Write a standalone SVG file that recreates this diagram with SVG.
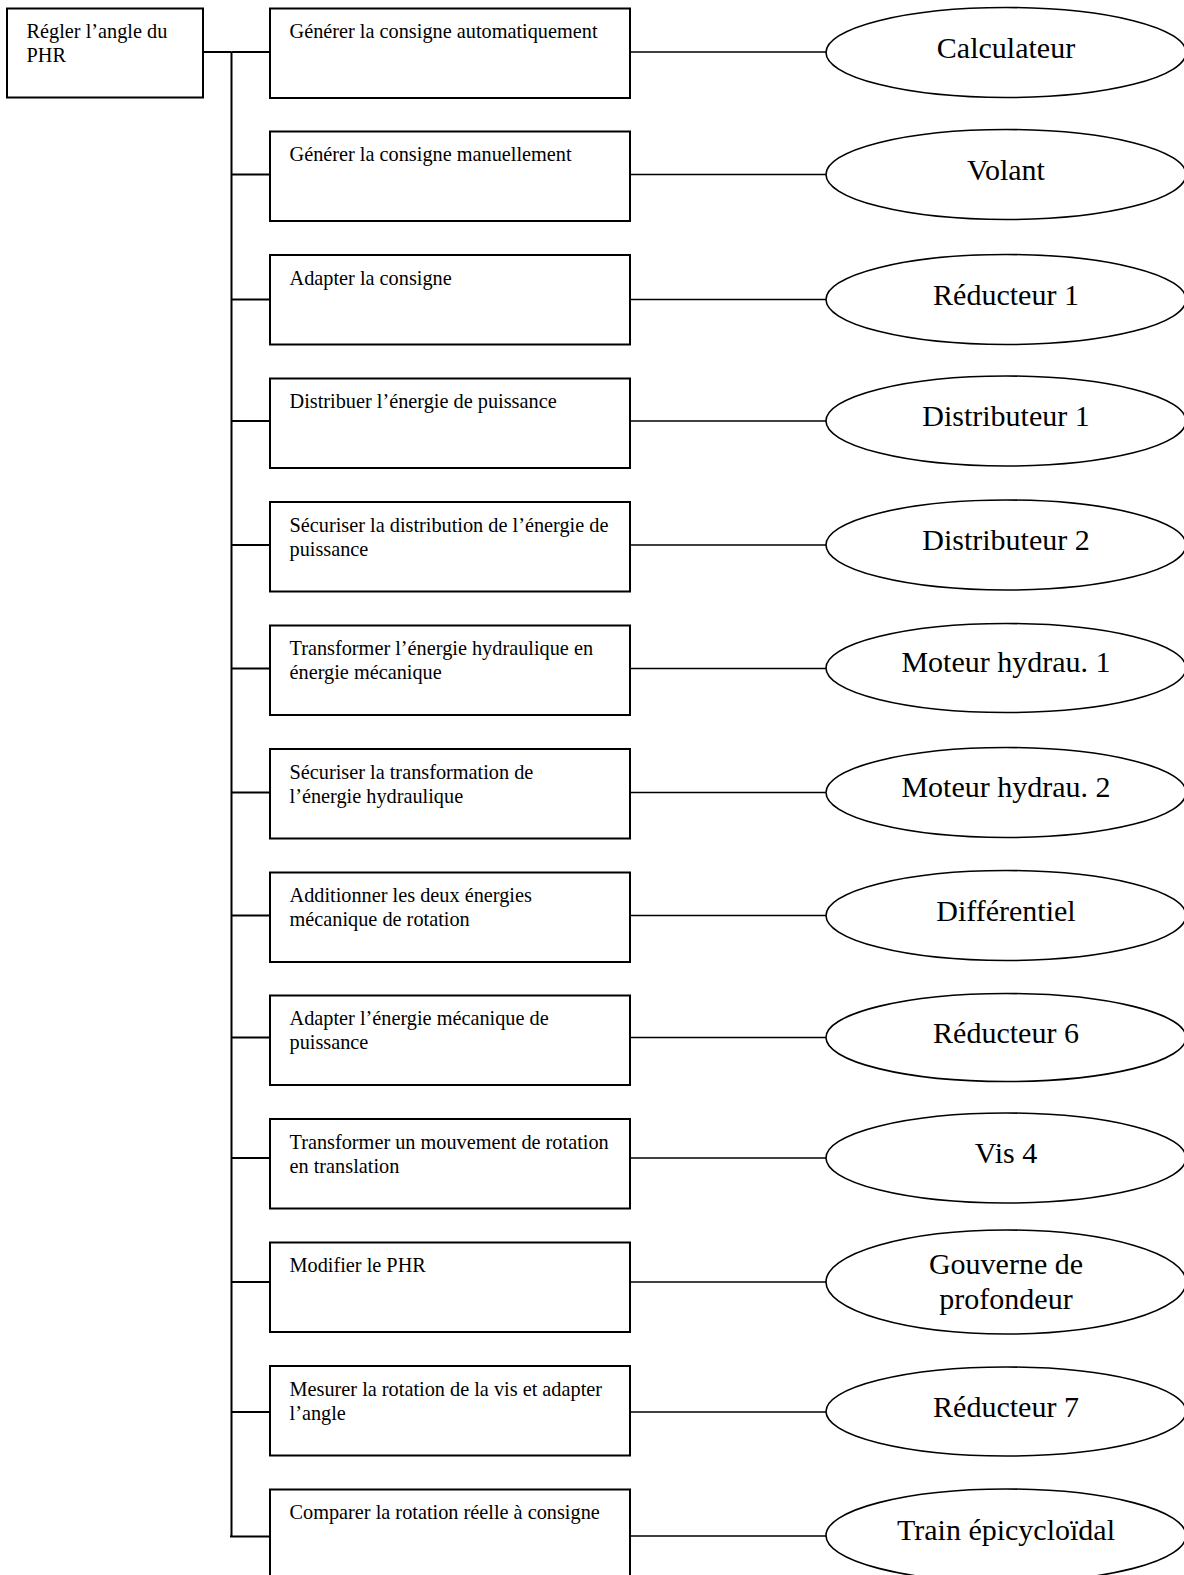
<svg xmlns="http://www.w3.org/2000/svg" width="1184" height="1575" viewBox="0 0 1184 1575">
<style>
.box{fill:#fff;stroke:#000;stroke-width:2}
.ell{fill:#fff;stroke:#000;stroke-width:1.6}
.ln{stroke:#000;stroke-width:2;fill:none}
.rl{stroke:#000;stroke-width:1.6;fill:none}
.t{font-family:"Liberation Serif","Times New Roman",serif;font-size:20.3px;fill:#000}
.e{font-family:"Liberation Serif","Times New Roman",serif;font-size:30px;fill:#000;text-anchor:middle}
</style>
<rect width="1184" height="1575" fill="#fff"/>
<g id="connectors">
<line class="ln" x1="203" y1="52" x2="231.5" y2="52"/>
<line class="ln" x1="231.5" y1="52" x2="231.5" y2="1537"/>
<line class="ln" x1="231.5" y1="52" x2="270" y2="52"/>
<line class="ln" x1="231.5" y1="174.5" x2="270" y2="174.5"/>
<line class="ln" x1="231.5" y1="299.5" x2="270" y2="299.5"/>
<line class="ln" x1="231.5" y1="421" x2="270" y2="421"/>
<line class="ln" x1="231.5" y1="545" x2="270" y2="545"/>
<line class="ln" x1="231.5" y1="668.5" x2="270" y2="668.5"/>
<line class="ln" x1="231.5" y1="792.5" x2="270" y2="792.5"/>
<line class="ln" x1="231.5" y1="915.5" x2="270" y2="915.5"/>
<line class="ln" x1="231.5" y1="1037.5" x2="270" y2="1037.5"/>
<line class="ln" x1="231.5" y1="1158" x2="270" y2="1158"/>
<line class="ln" x1="231.5" y1="1282" x2="270" y2="1282"/>
<line class="ln" x1="231.5" y1="1412" x2="270" y2="1412"/>
<line class="ln" x1="230" y1="1536.5" x2="270" y2="1536.5"/>
<line class="rl" x1="630" y1="52" x2="826" y2="52"/>
<line class="rl" x1="630" y1="174.5" x2="826" y2="174.5"/>
<line class="rl" x1="630" y1="299.5" x2="826" y2="299.5"/>
<line class="rl" x1="630" y1="421" x2="826" y2="421"/>
<line class="rl" x1="630" y1="545" x2="826" y2="545"/>
<line class="rl" x1="630" y1="668.5" x2="826" y2="668.5"/>
<line class="rl" x1="630" y1="792.5" x2="826" y2="792.5"/>
<line class="rl" x1="630" y1="915.5" x2="826" y2="915.5"/>
<line class="rl" x1="630" y1="1037.5" x2="826" y2="1037.5"/>
<line class="rl" x1="630" y1="1158" x2="826" y2="1158"/>
<line class="rl" x1="630" y1="1282" x2="826" y2="1282"/>
<line class="rl" x1="630" y1="1412" x2="826" y2="1412"/>
<line class="rl" x1="630" y1="1536" x2="826" y2="1536"/>
</g>
<g id="root">
<rect class="box" x="7" y="8.5" width="196" height="89"/>
<text class="t" x="26.5" y="37.8">Régler l’angle du</text>
<text class="t" x="26.5" y="61.5">PHR</text>
</g>
<g id="f1"><rect class="box" x="270" y="8.5" width="360" height="89.5"/><text class="t" x="289.5" y="37.8">Générer la consigne automatiquement</text></g>
<g id="f2"><rect class="box" x="270" y="131.5" width="360" height="89.5"/><text class="t" x="289.5" y="161">Générer la consigne manuellement</text></g>
<g id="f3"><rect class="box" x="270" y="255" width="360" height="89.5"/><text class="t" x="289.5" y="284.5">Adapter la consigne</text></g>
<g id="f4"><rect class="box" x="270" y="378.5" width="360" height="89.5"/><text class="t" x="289.5" y="408">Distribuer l’énergie de puissance</text></g>
<g id="f5"><rect class="box" x="270" y="502" width="360" height="89.5"/><text class="t" x="289.5" y="531.5">Sécuriser la distribution de l’énergie de</text><text class="t" x="289.5" y="555.5">puissance</text></g>
<g id="f6"><rect class="box" x="270" y="625.5" width="360" height="89.5"/><text class="t" x="289.5" y="655">Transformer l’énergie hydraulique en</text><text class="t" x="289.5" y="679">énergie mécanique</text></g>
<g id="f7"><rect class="box" x="270" y="749" width="360" height="89.5"/><text class="t" x="289.5" y="778.5">Sécuriser la transformation de</text><text class="t" x="289.5" y="802.5">l’énergie hydraulique</text></g>
<g id="f8"><rect class="box" x="270" y="872.5" width="360" height="89.5"/><text class="t" x="289.5" y="902">Additionner les deux énergies</text><text class="t" x="289.5" y="926">mécanique de rotation</text></g>
<g id="f9"><rect class="box" x="270" y="995.5" width="360" height="89.5"/><text class="t" x="289.5" y="1025">Adapter l’énergie mécanique de</text><text class="t" x="289.5" y="1049">puissance</text></g>
<g id="f10"><rect class="box" x="270" y="1119" width="360" height="89.5"/><text class="t" x="289.5" y="1148.5">Transformer un mouvement de rotation</text><text class="t" x="289.5" y="1172.5">en translation</text></g>
<g id="f11"><rect class="box" x="270" y="1242.5" width="360" height="89.5"/><text class="t" x="289.5" y="1272">Modifier le PHR</text></g>
<g id="f12"><rect class="box" x="270" y="1366" width="360" height="89.5"/><text class="t" x="289.5" y="1395.5">Mesurer la rotation de la vis et adapter</text><text class="t" x="289.5" y="1419.5">l’angle</text></g>
<g id="f13"><rect class="box" x="270" y="1489.5" width="360" height="92"/><text class="t" x="289.5" y="1519">Comparer la rotation réelle à consigne</text></g>
<g id="e1"><ellipse class="ell" cx="1006" cy="52.5" rx="180" ry="45"/><text class="e" x="1006" y="57.5">Calculateur</text></g>
<g id="e2"><ellipse class="ell" cx="1006" cy="174.5" rx="180" ry="45"/><text class="e" x="1006" y="179.5">Volant</text></g>
<g id="e3"><ellipse class="ell" cx="1006" cy="299.5" rx="180" ry="45"/><text class="e" x="1006" y="304.5">Réducteur 1</text></g>
<g id="e4"><ellipse class="ell" cx="1006" cy="421" rx="180" ry="45"/><text class="e" x="1006" y="426">Distributeur 1</text></g>
<g id="e5"><ellipse class="ell" cx="1006" cy="545" rx="180" ry="45"/><text class="e" x="1006" y="550">Distributeur 2</text></g>
<g id="e6"><ellipse class="ell" cx="1006" cy="668" rx="180" ry="44.5"/><text class="e" x="1006" y="672">Moteur hydrau. 1</text></g>
<g id="e7"><ellipse class="ell" cx="1006" cy="792.5" rx="180" ry="45"/><text class="e" x="1006" y="797">Moteur hydrau. 2</text></g>
<g id="e8"><ellipse class="ell" cx="1006" cy="915.5" rx="180" ry="45"/><text class="e" x="1006" y="920.5">Différentiel</text></g>
<g id="e9"><ellipse class="ell" cx="1006" cy="1037.5" rx="180" ry="44"/><text class="e" x="1006" y="1042.5">Réducteur 6</text></g>
<g id="e10"><ellipse class="ell" cx="1006" cy="1158" rx="180" ry="45"/><text class="e" x="1006" y="1163">Vis 4</text></g>
<g id="e11"><ellipse class="ell" cx="1006" cy="1282" rx="180" ry="52"/><text class="e" x="1006" y="1274">Gouverne de</text><text class="e" x="1006" y="1308.5">profondeur</text></g>
<g id="e12"><ellipse class="ell" cx="1006" cy="1411.5" rx="180" ry="44.5"/><text class="e" x="1006" y="1416.5">Réducteur 7</text></g>
<g id="e13"><ellipse class="ell" cx="1006" cy="1535.5" rx="180" ry="46.5"/><text class="e" x="1006" y="1540">Train épicycloïdal</text></g>
</svg>
